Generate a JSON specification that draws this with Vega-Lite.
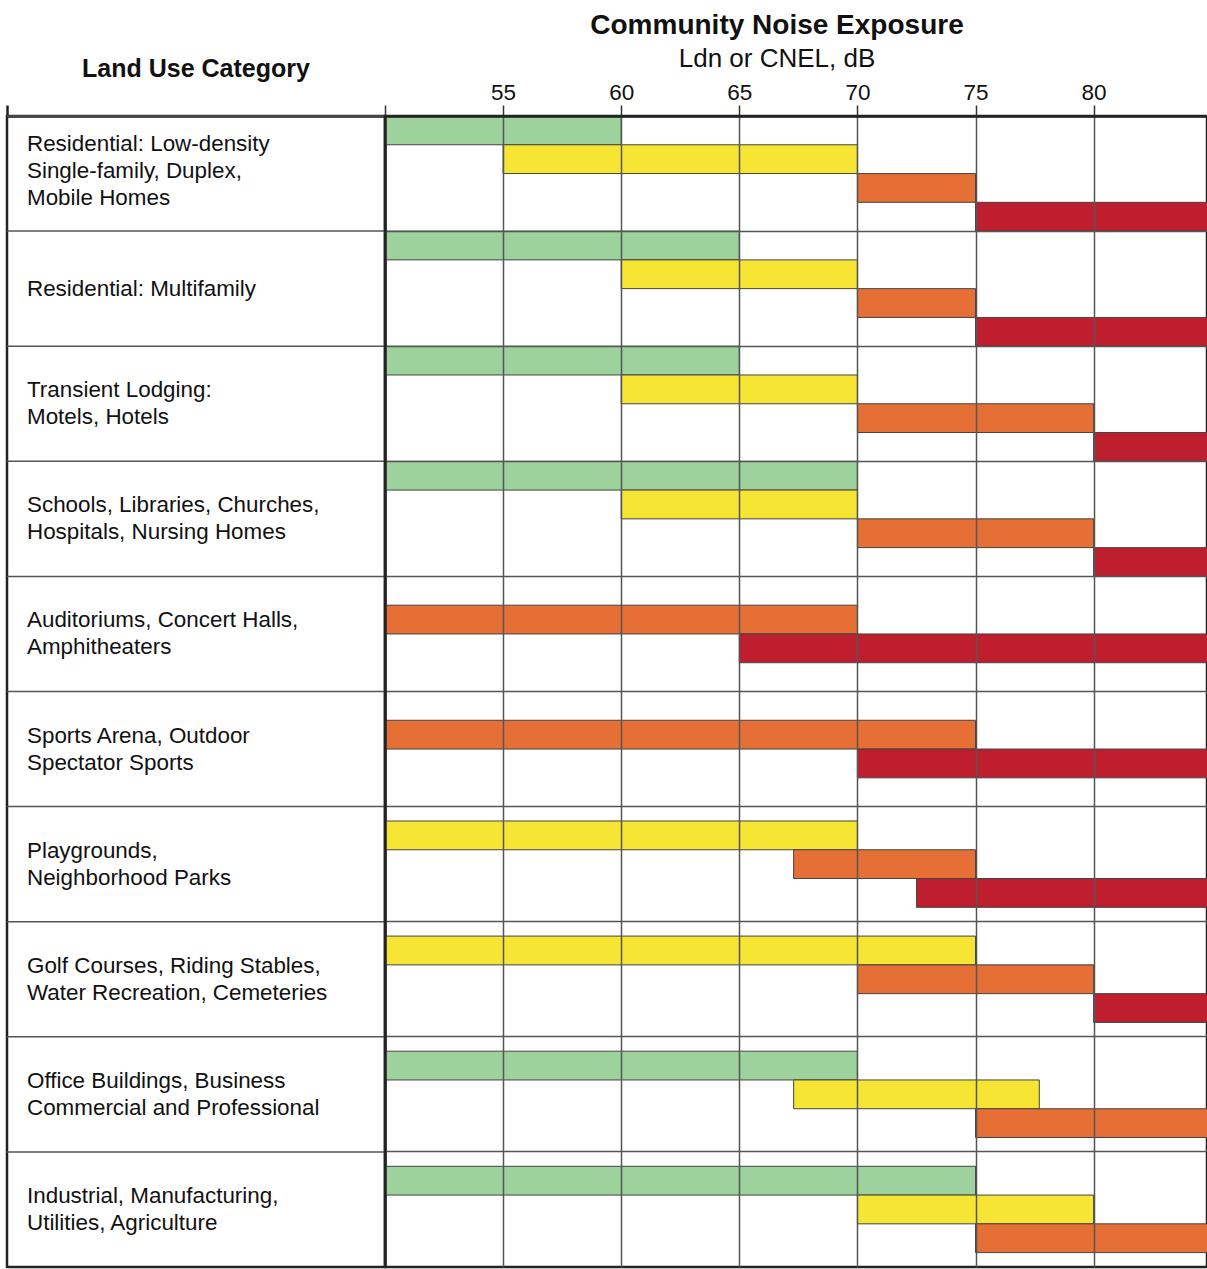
{
  "$schema": "https://vega.github.io/schema/vega-lite/v6.json",
  "padding": {"left": 4, "top": 10, "right": 0, "bottom": 0},
  "background": "white",
  "datasets": {
    "bars": [
      {"category": "Residential: Low-density", "level": "Normally Acceptable", "low": 50, "high": 60},
      {"category": "Residential: Low-density", "level": "Conditionally Acceptable", "low": 55, "high": 70},
      {"category": "Residential: Low-density", "level": "Normally Unacceptable", "low": 70, "high": 75},
      {"category": "Residential: Low-density", "level": "Clearly Unacceptable", "low": 75, "high": 85},
      {"category": "Residential: Multifamily", "level": "Normally Acceptable", "low": 50, "high": 65},
      {"category": "Residential: Multifamily", "level": "Conditionally Acceptable", "low": 60, "high": 70},
      {"category": "Residential: Multifamily", "level": "Normally Unacceptable", "low": 70, "high": 75},
      {"category": "Residential: Multifamily", "level": "Clearly Unacceptable", "low": 75, "high": 85},
      {"category": "Transient Lodging", "level": "Normally Acceptable", "low": 50, "high": 65},
      {"category": "Transient Lodging", "level": "Conditionally Acceptable", "low": 60, "high": 70},
      {"category": "Transient Lodging", "level": "Normally Unacceptable", "low": 70, "high": 80},
      {"category": "Transient Lodging", "level": "Clearly Unacceptable", "low": 80, "high": 85},
      {"category": "Schools", "level": "Normally Acceptable", "low": 50, "high": 70},
      {"category": "Schools", "level": "Conditionally Acceptable", "low": 60, "high": 70},
      {"category": "Schools", "level": "Normally Unacceptable", "low": 70, "high": 80},
      {"category": "Schools", "level": "Clearly Unacceptable", "low": 80, "high": 85},
      {"category": "Auditoriums", "level": "Normally Unacceptable", "low": 50, "high": 70},
      {"category": "Auditoriums", "level": "Clearly Unacceptable", "low": 65, "high": 85},
      {"category": "Sports Arena", "level": "Normally Unacceptable", "low": 50, "high": 75},
      {"category": "Sports Arena", "level": "Clearly Unacceptable", "low": 70, "high": 85},
      {"category": "Playgrounds", "level": "Conditionally Acceptable", "low": 50, "high": 70},
      {"category": "Playgrounds", "level": "Normally Unacceptable", "low": 67.3, "high": 75},
      {"category": "Playgrounds", "level": "Clearly Unacceptable", "low": 72.5, "high": 85},
      {"category": "Golf Courses", "level": "Conditionally Acceptable", "low": 50, "high": 75},
      {"category": "Golf Courses", "level": "Normally Unacceptable", "low": 70, "high": 80},
      {"category": "Golf Courses", "level": "Clearly Unacceptable", "low": 80, "high": 85},
      {"category": "Office Buildings", "level": "Normally Acceptable", "low": 50, "high": 70},
      {"category": "Office Buildings", "level": "Conditionally Acceptable", "low": 67.3, "high": 77.7},
      {"category": "Office Buildings", "level": "Normally Unacceptable", "low": 75, "high": 85},
      {"category": "Industrial", "level": "Normally Acceptable", "low": 50, "high": 75},
      {"category": "Industrial", "level": "Conditionally Acceptable", "low": 70, "high": 80},
      {"category": "Industrial", "level": "Normally Unacceptable", "low": 75, "high": 85}
    ],
    "cats": [
      {"category": "Residential: Low-density", "label": "Residential: Low-density\nSingle-family, Duplex,\nMobile Homes"},
      {"category": "Residential: Multifamily", "label": "Residential: Multifamily"},
      {"category": "Transient Lodging", "label": "Transient Lodging:\nMotels, Hotels"},
      {"category": "Schools", "label": "Schools, Libraries, Churches,\nHospitals, Nursing Homes"},
      {"category": "Auditoriums", "label": "Auditoriums, Concert Halls,\nAmphitheaters"},
      {"category": "Sports Arena", "label": "Sports Arena, Outdoor\nSpectator Sports"},
      {"category": "Playgrounds", "label": "Playgrounds,\nNeighborhood Parks"},
      {"category": "Golf Courses", "label": "Golf Courses, Riding Stables,\nWater Recreation, Cemeteries"},
      {"category": "Office Buildings", "label": "Office Buildings, Business\nCommercial and Professional"},
      {"category": "Industrial", "label": "Industrial, Manufacturing,\nUtilities, Agriculture"}
    ]
  },
  "spacing": 0,
  "bounds": "flush",
  "hconcat": [
    {
      "width": 378,
      "height": 1151,
      "data": {"name": "cats"},
      "title": {"text": "Land Use Category", "fontSize": 25, "fontWeight": "bold", "anchor": "middle", "offset": 22, "color": "#111"},
      "encoding": {
        "y": {"field": "category", "type": "nominal", "axis": null,
              "scale": {"domain": ["Residential: Low-density", "Residential: Multifamily", "Transient Lodging", "Schools", "Auditoriums", "Sports Arena", "Playgrounds", "Golf Courses", "Office Buildings", "Industrial"], "paddingInner": 0, "paddingOuter": 0}}
      },
      "layer": [
        {
          "mark": {"type": "rule", "stroke": "#555", "strokeWidth": 1.5},
          "encoding": {
            "y": {"field": "category", "type": "nominal", "bandPosition": 0}
          }
        },
        {
          "transform": [{"filter": "length(split(datum.label, '\\n')) == 1"}],
          "mark": {"type": "text", "align": "left", "baseline": "middle", "dx": 20, "dy": 0, "fontSize": 22.4, "lineBreak": "\n", "lineHeight": 27, "color": "#111", "font": "Liberation Sans"},
          "encoding": {
            "x": {"datum": 0, "type": "quantitative", "scale": {"domain": [0, 1], "nice": false},
                  "axis": {"orient": "top", "values": [0], "labels": false, "tickSize": 11, "tickColor": "#222", "tickWidth": 2.5, "grid": false, "domain": true, "domainColor": "#222", "domainWidth": 2.5, "title": null}},
            "text": {"field": "label"}
          }
        },
        {
          "transform": [{"filter": "length(split(datum.label, '\\n')) == 2"}],
          "mark": {"type": "text", "align": "left", "baseline": "middle", "dx": 20, "dy": -13.5, "fontSize": 22.4, "lineBreak": "\n", "lineHeight": 27, "color": "#111", "font": "Liberation Sans"},
          "encoding": {
            "x": {"datum": 0, "type": "quantitative"},
            "text": {"field": "label"}
          }
        },
        {
          "transform": [{"filter": "length(split(datum.label, '\\n')) == 3"}],
          "mark": {"type": "text", "align": "left", "baseline": "middle", "dx": 20, "dy": -30, "fontSize": 22.4, "lineBreak": "\n", "lineHeight": 27, "color": "#111", "font": "Liberation Sans"},
          "encoding": {
            "x": {"datum": 0, "type": "quantitative"},
            "text": {"field": "label"}
          }
        }
      ]
    },
    {
      "width": 822,
      "height": 1151,
      "data": {"name": "bars"},
      "title": {"text": "Community Noise Exposure", "subtitle": "Ldn or CNEL, dB", "fontSize": 28, "fontWeight": "bold", "subtitleFontSize": 26, "subtitlePadding": 6, "anchor": "middle", "dx": -19, "offset": 9, "color": "#111", "subtitleColor": "#111"},
      "transform": [
        {"joinaggregate": [{"op": "count", "as": "n"}], "groupby": ["category"]},
        {"window": [{"op": "row_number", "as": "order"}], "sort": [{"field": "low", "order": "ascending"}], "groupby": ["category"]}
      ],
      "encoding": {
        "y": {"field": "category", "type": "nominal",
              "scale": {"domain": ["Residential: Low-density", "Residential: Multifamily", "Transient Lodging", "Schools", "Auditoriums", "Sports Arena", "Playgrounds", "Golf Courses", "Office Buildings", "Industrial"], "paddingInner": 0, "paddingOuter": 0},
              "axis": {"bandPosition": 0, "grid": true, "gridColor": "#555", "gridWidth": 1.5, "labels": false, "ticks": false, "domain": true, "domainColor": "#222", "domainWidth": 2.5, "title": null, "zindex": 1}},
        "x": {"field": "low", "type": "quantitative",
              "scale": {"domain": [50, 84.8], "nice": false, "zero": false},
              "axis": {"orient": "top", "values": [50, 55, 60, 65, 70, 75, 80], "labelExpr": "datum.value == 50 ? '' : datum.label", "tickSize": 11, "tickColor": "#333", "tickWidth": 1.5, "grid": true, "gridColor": "#555", "gridWidth": 1.5, "domain": true, "domainColor": "#222", "domainWidth": 2.5, "labelFontSize": 22.5, "labelColor": "#111", "labelFont": "Liberation Sans", "labelPadding": 1, "title": null, "zindex": 1}},
        "x2": {"field": "high"},
        "color": {"field": "level", "type": "nominal", "legend": null,
                  "scale": {"domain": ["Normally Acceptable", "Conditionally Acceptable", "Normally Unacceptable", "Clearly Unacceptable"], "range": ["#9dd29c", "#f6e532", "#e66f35", "#bf1e2e"]}}
      },
      "layer": [
        {
          "transform": [{"filter": "datum.n == 4"}],
          "mark": {"type": "bar", "stroke": "#444", "strokeWidth": 1, "clip": true},
          "encoding": {"yOffset": {"field": "order", "type": "ordinal", "scale": {"paddingInner": 0, "paddingOuter": 0}}}
        },
        {
          "transform": [{"filter": "datum.n == 3"}],
          "mark": {"type": "bar", "stroke": "#444", "strokeWidth": 1, "clip": true},
          "encoding": {"yOffset": {"field": "order", "type": "ordinal", "scale": {"paddingInner": 0, "paddingOuter": 0.5}}}
        },
        {
          "transform": [{"filter": "datum.n == 2"}],
          "mark": {"type": "bar", "stroke": "#444", "strokeWidth": 1, "clip": true},
          "encoding": {"yOffset": {"field": "order", "type": "ordinal", "scale": {"paddingInner": 0, "paddingOuter": 1}}}
        }
      ],
      "resolve": {"scale": {"yOffset": "independent"}}
    }
  ],
  "config": {
    "font": "Liberation Sans",
    "view": {"stroke": "#222", "strokeWidth": 2.5},
    "title": {"font": "Liberation Sans", "subtitleFont": "Liberation Sans"}
  }
}
